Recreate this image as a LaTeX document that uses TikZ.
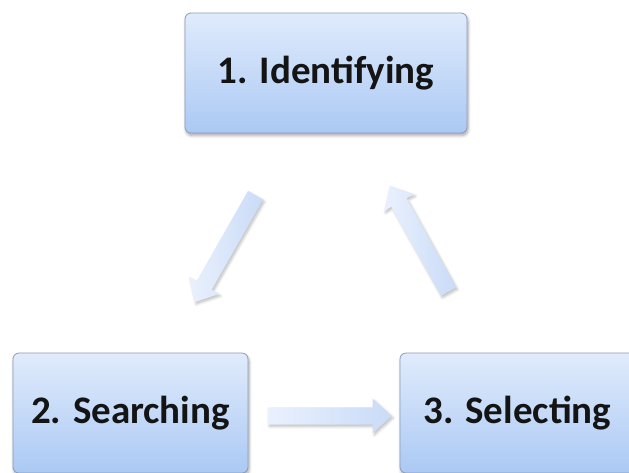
\documentclass[tikz,border=0pt]{standalone}
\usepackage{fontspec}
\setmainfont{Carlito}
\usetikzlibrary{shapes.arrows,shadows.blur}

\definecolor{boxtop}{HTML}{E0EBFC}
\definecolor{boxbottom}{HTML}{ABC9F4}
\definecolor{boxedge}{HTML}{8B9DB8}
\definecolor{arrowtop}{HTML}{EAF1FD}
\definecolor{arrowbottom}{HTML}{C9DBF7}
\definecolor{labeltext}{HTML}{141414}

\tikzset{
  stagebox/.style={
    rectangle, rounded corners=6pt, draw=boxedge, line width=0.8pt,
    top color=boxtop, bottom color=boxbottom,
    minimum height=120pt, inner sep=0pt,
    text=labeltext, font=\fontsize{39}{46}\selectfont\bfseries,
    blur shadow={shadow xshift=1pt, shadow yshift=-2.5pt, shadow blur steps=6,
                 shadow blur radius=3pt, shadow opacity=35}
  },
  flowarrow/.style={
    single arrow, draw=none, inner xsep=0pt, inner ysep=8.5pt,
    single arrow head extend=8.5pt, single arrow tip angle=84,
    left color=arrowtop, right color=arrowbottom,
    sloped, allow upside down,
    blur shadow={shadow xshift=1.5pt, shadow yshift=-2pt, shadow blur steps=5,
                 shadow blur radius=2.5pt, shadow opacity=25}
  }
}

\begin{document}
\begin{tikzpicture}[x=1pt, y=-1pt]
  \useasboundingbox (0,0) rectangle (629,472);

  % three stages of the cycle
  \node[stagebox, minimum width=282pt] (identify) at (326,73)    {1. Identifying};
  \node[stagebox, minimum width=235pt] (search)   at (130.5,413) {2. Searching};
  \node[stagebox, minimum width=235pt] (select)   at (517.5,413) {3. Selecting};

  % end points of the block arrows between the stages
  \coordinate (a1tail) at (258,191);
  \coordinate (a1tip)  at (197,298);
  \coordinate (a2tail) at (263,416);
  \coordinate (a2tip)  at (387,416);
  \coordinate (a3tail) at (451,296);
  \coordinate (a3tip)  at (392,190);

  \path (a1tail) -- node[flowarrow, minimum height=123pt] (idtosearch) {} (a1tip);
  \path (a2tail) -- node[flowarrow, minimum height=124pt] (searchtosel) {} (a2tip);
  \path (a3tail) -- node[flowarrow, minimum height=121pt] (seltoid) {} (a3tip);
\end{tikzpicture}
\end{document}
